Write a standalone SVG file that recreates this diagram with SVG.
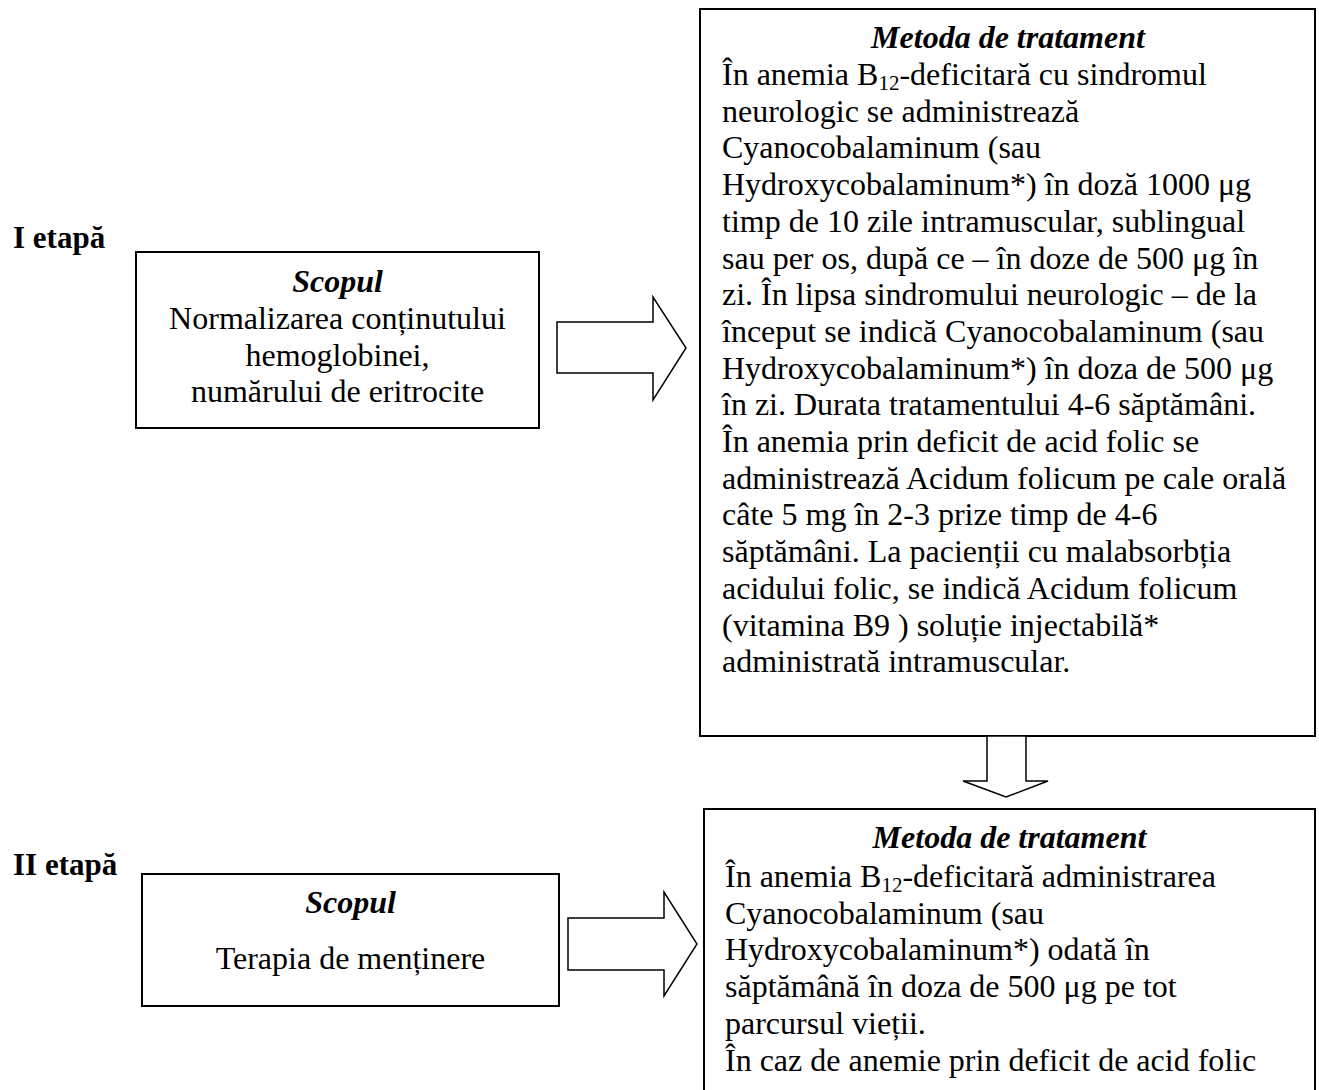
<svg xmlns="http://www.w3.org/2000/svg" width="1319" height="1090" viewBox="0 0 1319 1090">
<style>
  .box { fill: #ffffff; stroke: #000000; stroke-width: 2; }
  .arrow { fill: #ffffff; stroke: #000000; stroke-width: 1.5; stroke-linejoin: miter; }
  .t { font-family: "Liberation Serif", "Times New Roman", serif; font-size: 32px; fill: #000000; }
  .title { font-family: "Liberation Serif", "Times New Roman", serif; font-size: 32px; font-weight: bold; font-style: italic; fill: #000000; text-anchor: middle; }
  .stage { font-family: "Liberation Serif", "Times New Roman", serif; font-size: 31px; font-weight: bold; fill: #000000; }
  .c { text-anchor: middle; }
  .sub { font-size: 21px; }
</style>
<rect x="0" y="0" width="1319" height="1090" fill="#ffffff"/>

<g id="stage1-label">
  <text class="stage" x="13" y="248">I etapă</text>
</g>
<g id="stage2-label">
  <text class="stage" x="13" y="875">II etapă</text>
</g>

<g id="goal1">
  <rect class="box" x="136" y="252" width="403" height="176"/>
  <text class="title" x="337.5" y="292">Scopul</text>
  <text class="t c" x="337.5" y="329">Normalizarea conținutului</text>
  <text class="t c" x="337.5" y="366">hemoglobinei,</text>
  <text class="t c" x="337.5" y="402">numărului de eritrocite</text>
</g>

<g id="method1">
  <rect class="box" x="700" y="9" width="615" height="727"/>
  <text class="title" x="1008" y="48">Metoda de tratament</text>
  <text class="t" x="722" y="85">În anemia B<tspan class="sub" dy="5">12</tspan><tspan dy="-5">-deficitară cu sindromul</tspan></text>
  <text class="t" x="722" y="121.7">neurologic se administrează</text>
  <text class="t" x="722" y="158.4">Cyanocobalaminum (sau</text>
  <text class="t" x="722" y="195.1">Hydroxycobalaminum*) în doză 1000 μg</text>
  <text class="t" x="722" y="231.8">timp de 10 zile intramuscular, sublingual</text>
  <text class="t" x="722" y="268.5">sau per os, după ce – în doze de 500 μg în</text>
  <text class="t" x="722" y="305.2">zi. În lipsa sindromului neurologic – de la</text>
  <text class="t" x="722" y="341.9">început se indică Cyanocobalaminum (sau</text>
  <text class="t" x="722" y="378.6">Hydroxycobalaminum*) în doza de 500 μg</text>
  <text class="t" x="722" y="415.3">în zi. Durata tratamentului 4-6 săptămâni.</text>
  <text class="t" x="722" y="452">În anemia prin deficit de acid folic se</text>
  <text class="t" x="722" y="488.7">administrează Acidum folicum pe cale orală</text>
  <text class="t" x="722" y="525.4">câte 5 mg în 2-3 prize timp de 4-6</text>
  <text class="t" x="722" y="562.1">săptămâni. La pacienții cu malabsorbția</text>
  <text class="t" x="722" y="598.8">acidului folic, se indică Acidum folicum</text>
  <text class="t" x="722" y="635.5">(vitamina B9 ) soluție injectabilă*</text>
  <text class="t" x="722" y="672.2">administrată intramuscular.</text>
</g>

<g id="goal2">
  <rect class="box" x="142" y="874" width="417" height="132"/>
  <text class="title" x="350.5" y="913">Scopul</text>
  <text class="t c" x="350.5" y="969">Terapia de menținere</text>
</g>

<g id="method2">
  <rect class="box" x="704" y="809" width="611" height="300"/>
  <text class="title" x="1009.5" y="848">Metoda de tratament</text>
  <text class="t" x="725" y="887">În anemia B<tspan class="sub" dy="5">12</tspan><tspan dy="-5">-deficitară administrarea</tspan></text>
  <text class="t" x="725" y="923.7">Cyanocobalaminum (sau</text>
  <text class="t" x="725" y="960.4">Hydroxycobalaminum*) odată în</text>
  <text class="t" x="725" y="997.1">săptămână în doza de 500 μg pe tot</text>
  <text class="t" x="725" y="1033.8">parcursul vieții.</text>
  <text class="t" x="725" y="1070.5">În caz de anemie prin deficit de acid folic</text>
</g>

<g id="connectors">
  <polygon class="arrow" points="557,322 653,322 653,297 686,348 653,400 653,373 557,373"/>
  <polygon class="arrow" points="987,736 1026,736 1026,781 1048,781 1006,797 963,781 987,781"/>
  <polygon class="arrow" points="568,918 664,918 664,892 697,944 664,996 664,970 568,970"/>
</g>
</svg>
